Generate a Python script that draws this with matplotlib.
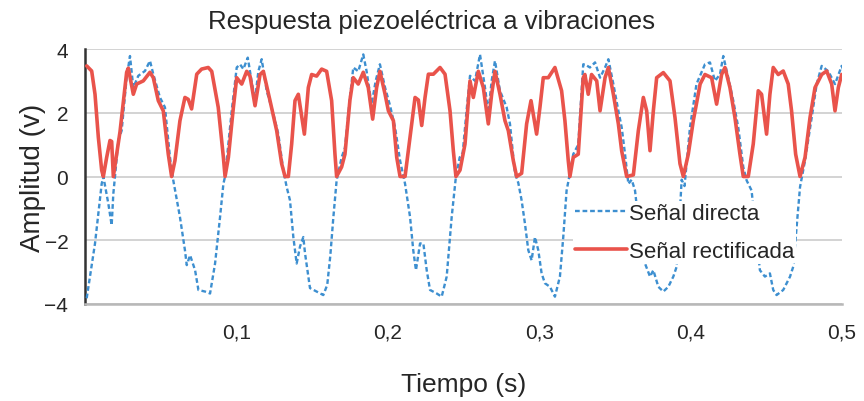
import matplotlib
matplotlib.use("Agg")
import matplotlib.pyplot as plt
from matplotlib.ticker import FuncFormatter

# Señal directa (tiempo en s, amplitud en V)
t_directa = [
    0.0011, 0.0066, 0.0110, 0.0121, 0.0154, 0.0176, 0.0187, 0.0198, 0.0220, 0.0242,
    0.0275, 0.0297, 0.0319, 0.0352, 0.0396, 0.0429, 0.0451, 0.0495, 0.0528, 0.0561,
    0.0583, 0.0627, 0.0660, 0.0672, 0.0694, 0.0727, 0.0749, 0.0793, 0.0826, 0.0859,
    0.0892, 0.0914, 0.0925, 0.0969, 0.1002, 0.1024, 0.1046, 0.1075, 0.1100, 0.1123,
    0.1145, 0.1167, 0.1200, 0.1244, 0.1277, 0.1310, 0.1332, 0.1354, 0.1376, 0.1398,
    0.1420, 0.1442, 0.1453, 0.1486, 0.1530, 0.1574, 0.1600, 0.1620, 0.1640, 0.1662,
    0.1695, 0.1717, 0.1750, 0.1772, 0.1805, 0.1838, 0.1860, 0.1893, 0.1920, 0.1948,
    0.1982, 0.2015, 0.2048, 0.2081, 0.2114, 0.2147, 0.2168, 0.2186, 0.2213, 0.2235,
    0.2257, 0.2279, 0.2323, 0.2356, 0.2389, 0.2422, 0.2450, 0.2475, 0.2495, 0.2521,
    0.2543, 0.2576, 0.2609, 0.2642, 0.2664, 0.2686, 0.2708, 0.2741, 0.2785, 0.2807,
    0.2840, 0.2862, 0.2884, 0.2906, 0.2928, 0.2950, 0.2972, 0.2994, 0.3016, 0.3038,
    0.3071, 0.3104, 0.3137, 0.3159, 0.3181, 0.3203, 0.3225, 0.3258, 0.3291, 0.3302,
    0.3335, 0.3369, 0.3402, 0.3435, 0.3457, 0.3490, 0.3523, 0.3545, 0.3567, 0.3589,
    0.3611, 0.3633, 0.3660, 0.3699, 0.3732, 0.3754, 0.3787, 0.3820, 0.3853, 0.3886,
    0.3908, 0.3925, 0.3941, 0.3960, 0.3996, 0.4039, 0.4095, 0.4128, 0.4161, 0.4194,
    0.4216, 0.4249, 0.4282, 0.4315, 0.4348, 0.4370, 0.4403, 0.4430, 0.4458, 0.4491,
    0.4524, 0.4546, 0.4568, 0.4612, 0.4657, 0.4678, 0.4700, 0.4723, 0.4756, 0.4800,
    0.4833, 0.4866, 0.4910, 0.4954, 0.4998, 0.5031,
]
v_directa = [
    -3.82, -2.10, -0.23, 0.00, -0.85, -1.53, -0.54, 0.00, 1.13, 1.44,
    3.10, 3.78, 2.79, 3.16, 3.31, 3.63, 3.21, 2.48, 2.17, 0.61,
    -0.12, -1.27, -2.31, -2.78, -2.47, -2.94, -3.56, -3.61, -3.67, -2.73,
    -1.27, -0.23, 0.00, 2.06, 3.42, 3.52, 3.37, 3.73, 3.00, 2.40,
    3.30, 3.68, 2.69, 1.96, 1.33, 0.19, -0.33, -0.75, -1.90, -2.73,
    -2.20, -1.90, -2.40, -3.50, -3.61, -3.72, -3.40, -2.50, -1.30, -0.12,
    0.60, 0.90, 2.48, 3.42, 3.30, 3.83, 3.30, 2.27, 3.00, 3.52,
    2.79, 2.22, 1.54, 0.50, -0.23, -1.27, -2.31, -2.94, -2.10, -2.10,
    -2.94, -3.56, -3.67, -3.77, -3.14, -1.27, 0.00, 0.60, 0.75, 2.10,
    3.16, 3.00, 3.83, 2.79, 2.00, 3.00, 3.63, 2.69, 2.17, 1.65,
    0.10, -0.20, -0.75, -1.48, -2.31, -2.63, -1.90, -2.31, -3.04, -3.35,
    -3.46, -3.77, -3.14, -1.90, -0.44, 0.10, 0.70, 1.00, 3.52, 3.52,
    3.42, 3.58, 3.10, 3.42, 3.68, 2.90, 2.06, 1.54, 0.70, -0.23,
    -0.10, -0.44, -1.60, -2.73, -3.14, -2.94, -3.46, -3.61, -3.46, -3.14,
    -2.83, -1.50, -0.10, -0.30, 1.54, 2.90, 3.52, 3.58, 3.00, 3.20,
    3.78, 3.10, 2.38, 1.54, 0.30, -0.12, -0.44, -1.70, -2.94, -3.14,
    -3.04, -3.56, -3.72, -3.56, -3.14, -2.83, -1.60, -0.33, 0.50, 1.85,
    2.90, 3.47, 3.30, 2.90, 3.47, 3.10,
]

# Señal rectificada
t_rect = [
    0.0011, 0.0044, 0.0066, 0.0088, 0.0110, 0.0121, 0.0143, 0.0165, 0.0176, 0.0187,
    0.0209, 0.0231, 0.0275, 0.0286, 0.0319, 0.0341, 0.0385, 0.0429, 0.0451, 0.0484,
    0.0517, 0.0550, 0.0572, 0.0594, 0.0627, 0.0660, 0.0682, 0.0704, 0.0738, 0.0770,
    0.0814, 0.0837, 0.0880, 0.0914, 0.0925, 0.0947, 0.0980, 0.1002, 0.1035, 0.1068,
    0.1090, 0.1123, 0.1156, 0.1178, 0.1222, 0.1266, 0.1299, 0.1321, 0.1343, 0.1365,
    0.1387, 0.1409, 0.1449, 0.1475, 0.1497, 0.1530, 0.1563, 0.1596, 0.1629, 0.1651,
    0.1662, 0.1695, 0.1717, 0.1750, 0.1772, 0.1805, 0.1838, 0.1871, 0.1900, 0.1926,
    0.1948, 0.1982, 0.2004, 0.2037, 0.2059, 0.2081, 0.2114, 0.2147, 0.2180, 0.2202,
    0.2224, 0.2246, 0.2268, 0.2301, 0.2345, 0.2378, 0.2411, 0.2433, 0.2450, 0.2477,
    0.2510, 0.2543, 0.2565, 0.2598, 0.2631, 0.2664, 0.2686, 0.2708, 0.2741, 0.2774,
    0.2796, 0.2829, 0.2851, 0.2884, 0.2917, 0.2946, 0.2983, 0.3005, 0.3027, 0.3060,
    0.3104, 0.3148, 0.3170, 0.3192, 0.3203, 0.3225, 0.3258, 0.3291, 0.3302, 0.3324,
    0.3346, 0.3380, 0.3402, 0.3435, 0.3457, 0.3490, 0.3523, 0.3545, 0.3578, 0.3622,
    0.3655, 0.3688, 0.3710, 0.3732, 0.3754, 0.3776, 0.3820, 0.3864, 0.3897, 0.3930,
    0.3952, 0.3985, 0.4018, 0.4063, 0.4095, 0.4139, 0.4172, 0.4205, 0.4227, 0.4260,
    0.4293, 0.4326, 0.4348, 0.4381, 0.4414, 0.4447, 0.4469, 0.4502, 0.4524, 0.4546,
    0.4579, 0.4612, 0.4645, 0.4667, 0.4694, 0.4723, 0.4756, 0.4789, 0.4822, 0.4866,
    0.4899, 0.4932, 0.4954, 0.4976, 0.4998, 0.5031,
]
v_rect = [
    3.47, 3.31, 2.58, 1.23, 0.20, 0.00, 0.60, 1.13, 1.10, 0.00,
    0.70, 1.40, 3.27, 3.40, 2.58, 2.90, 3.00, 3.27, 3.10, 2.38,
    2.06, 0.70, 0.00, 0.50, 1.75, 2.48, 2.42, 2.12, 3.21, 3.37,
    3.42, 3.30, 2.17, 0.60, 0.00, 0.60, 2.17, 3.10, 2.90, 3.30,
    3.15, 2.22, 3.20, 3.30, 2.38, 1.44, 0.40, 0.00, 0.00, 1.02,
    2.38, 2.58, 1.33, 2.79, 3.20, 3.15, 3.37, 3.30, 2.38, 0.70,
    0.00, 0.30, 0.70, 2.40, 3.10, 2.90, 3.27, 2.79, 1.80, 2.79,
    3.30, 2.58, 2.06, 1.75, 0.60, 0.00, 0.00, 1.23, 2.48, 2.40,
    1.60, 2.48, 3.21, 3.21, 3.42, 3.21, 2.06, 0.80, 0.00, 0.20,
    1.02, 3.00, 2.48, 3.30, 2.79, 1.65, 2.58, 3.30, 2.58, 1.75,
    1.44, 0.50, 0.00, 0.10, 1.65, 2.38, 1.33, 2.17, 3.10, 3.10,
    3.42, 2.69, 1.75, 0.50, 0.00, 0.60, 0.70, 3.10, 3.20, 2.58,
    3.20, 3.00, 2.06, 3.10, 3.42, 2.58, 1.65, 0.80, 0.00, 0.05,
    1.44, 2.48, 2.06, 0.81, 2.06, 3.10, 3.26, 3.00, 1.85, 0.40,
    0.00, 0.70, 1.75, 2.90, 3.20, 3.10, 2.27, 3.20, 3.42, 2.79,
    1.85, 0.70, 0.00, 0.00, 1.02, 2.69, 2.58, 1.33, 2.58, 3.42,
    3.20, 3.31, 2.90, 2.06, 0.70, 0.00, 0.60, 1.85, 2.79, 3.20,
    3.31, 2.90, 2.06, 2.79, 3.20, 3.00,
]

x_ticks = [0.1, 0.2, 0.3, 0.4, 0.5]
y_ticks = [-4, -2, 0, 2, 4]

plt.rcParams["font.family"] = ["Liberation Sans", "DejaVu Sans"]
text_color = "#262626"

fig = plt.figure(figsize=(8.64, 4.02), dpi=100)
ax = fig.add_axes([0.0984, 0.2413, 0.8761, 0.6343])

ax.plot(t_directa, v_directa, color="#3d8fd0", lw=1.7, linestyle=(0, (2.0, 1.2)),
        label="Señal directa", zorder=3)
ax.plot(t_rect, v_rect, color="#e9534b", lw=2.6, label="Señal rectificada", zorder=4,
        solid_joinstyle="round", solid_capstyle="round")

ax.set_xlim(0, 0.5)
ax.set_ylim(-4, 4)
ax.set_xticks(x_ticks)
ax.set_yticks(y_ticks)
ax.xaxis.set_major_formatter(FuncFormatter(lambda v, p: f"{v:.1f}".replace(".", ",")))
ax.tick_params(length=0, labelsize=15, colors=text_color)
ax.tick_params(axis="x", pad=13)
ax.tick_params(axis="y", pad=12)

ax.grid(axis="y", color="#cccccc", lw=1.2)
ax.set_axisbelow(True)
for side in ["top", "right"]:
    ax.spines[side].set_visible(False)
ax.spines["left"].set_color("#333333")
ax.spines["left"].set_linewidth(1.8)
ax.spines["bottom"].set_color("#b8b8b8")
ax.spines["bottom"].set_linewidth(1.8)

ax.set_ylabel("Amplitud (v)", fontsize=20, color=text_color, labelpad=-1)
ax.set_xlabel("Tiempo (s)", fontsize=19, color=text_color, labelpad=22)
fig.suptitle("Respuesta piezoeléctrica a vibraciones", fontsize=18.5,
             color=text_color, x=0.5, y=0.975)

leg = ax.legend(loc="center left", bbox_to_anchor=(0.645, 0.28), frameon=True,
                fontsize=16, handlelength=2.3, handletextpad=0.1,
                labelspacing=0.78, borderpad=0.1, borderaxespad=0)
leg.get_frame().set_edgecolor("none")
leg.get_frame().set_facecolor("white")
leg.get_frame().set_alpha(1.0)
for txt in leg.get_texts():
    txt.set_color(text_color)

fig.savefig("out.png", dpi=100)
